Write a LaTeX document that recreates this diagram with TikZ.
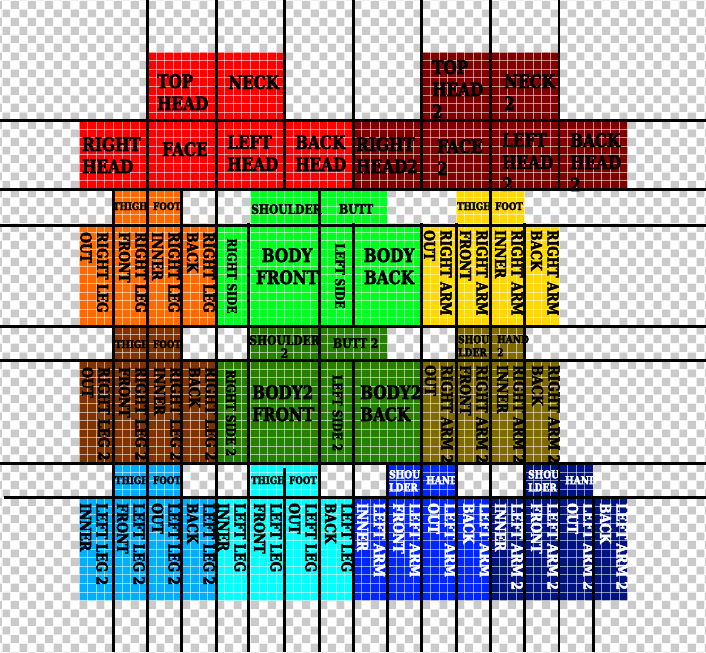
\documentclass[tikz,border=0pt]{standalone}
\usepackage{fontspec}
\setmainfont{DejaVu Serif}[FakeStretch=0.82, BoldFeatures={FakeBold=3}]
\definecolor{cRed}{HTML}{FF0000}
\definecolor{cDRed}{HTML}{7F0000}
\definecolor{cOrange}{HTML}{FF6A00}
\definecolor{cBrown}{HTML}{7F3300}
\definecolor{cGreen}{HTML}{00FF21}
\definecolor{cDGreen}{HTML}{267F00}
\definecolor{cYellow}{HTML}{FFD800}
\definecolor{cOlive}{HTML}{7F6A00}
\definecolor{cLBlue}{HTML}{00AEFF}
\definecolor{cCyan}{HTML}{00FFFF}
\definecolor{cBlue}{HTML}{0026FF}
\definecolor{cNavy}{HTML}{00137F}
\definecolor{cChk}{HTML}{CACACA}
\begin{document}
\begin{tikzpicture}[x=0.3cm,y=-0.3cm,
  blk/.style={line width=2.8pt, black},
  pxgrid/.style={white, opacity=0.55, line width=0.7pt},
  headlab/.style={inner sep=0pt, align=left, anchor=north west, font=\bfseries\fontsize{18.5}{22}\selectfont},
  smlab/.style={inner sep=0pt, align=left, anchor=north west, font=\bfseries\fontsize{10.5}{12}\selectfont},
  mdlab/.style={inner sep=0pt, align=left, anchor=north west, font=\bfseries\fontsize{13}{13}\selectfont},
  shlab/.style={inner sep=0pt, align=left, anchor=north west, font=\bfseries\fontsize{11}{13}\selectfont},
  vlab/.style={inner sep=0pt, align=left, rotate=-90, anchor=north west, font=\bfseries\fontsize{15}{16.5}\selectfont},
  sdlab/.style={inner sep=0pt, rotate=-90, anchor=center, font=\bfseries\fontsize{13}{13}\selectfont},
  wht/.style={text=white}]
\useasboundingbox (-9.218,-6.068) rectangle (73.16,70.01);
\begin{scope}
\clip (-9.218,-6.068) rectangle (73.16,70.01);
\fill[white] (-9.218,-6.068) rectangle (73.16,70.01);
\foreach \i in {-10,-8,...,72}{\foreach \j in {-8,-6,...,70}{
  \fill[cChk] (\i,\j) rectangle ++(1,1) (\i+1,\j+1) rectangle ++(1,1);}}
% colour regions
\fill[cRed] (8,0) rectangle (24,8) (0,8) rectangle (32,16);
\fill[cDRed] (40,0) rectangle (56,8) (32,8) rectangle (64,16);
\fill[cOrange] (4,16) rectangle (12,20) (0,20) rectangle (16,32);
\fill[cGreen] (20,16) rectangle (36,20) (16,20) rectangle (40,32);
\fill[cYellow] (44,16) rectangle (52,20) (40,20) rectangle (56,32);
\fill[cBrown] (4,32) rectangle (12,36) (0,36) rectangle (16,48);
\fill[cDGreen] (20,32) rectangle (36,36) (16,36) rectangle (40,48);
\fill[cOlive] (44,32) rectangle (52,36) (40,36) rectangle (56,48);
\fill[cLBlue] (4,48) rectangle (12,52) (0,52) rectangle (16,64);
\fill[cCyan] (20,48) rectangle (28,52) (16,52) rectangle (32,64);
\fill[cBlue] (36,48) rectangle (44,52) (32,52) rectangle (48,64);
\fill[cNavy] (52,48) rectangle (60,52) (48,52) rectangle (64,64);
% pixel grid
\foreach \i in {-10,...,74} \draw[pxgrid] (\i,-7) -- (\i,71);
\foreach \j in {-7,...,71} \draw[pxgrid] (-10,\j) -- (74,\j);
\end{scope}
% labels in pixel coordinates
\begin{scope}[shift={(-9.218,-6.068)}, x=0.035006cm, y=-0.035006cm]
\node[headlab] (tophead) at (157,74) {TOP\\HEAD};
\node[headlab] (neck) at (228,75) {NECK};
\node[headlab] (righthead) at (82,137) {RIGHT\\HEAD};
\node[headlab] (face) at (162,142) {FACE};
\node[headlab] (lefthead) at (227,135) {LEFT\\HEAD};
\node[headlab] (backhead) at (295,135) {BACK\\HEAD};
\node[headlab] (tophead2) at (432,60) {TOP\\HEAD\\2};
\node[headlab] (neck2) at (504,74) {NECK\\2};
\node[headlab] (righthead2) at (356,137) {RIGHT\\HEAD2};
\node[headlab] (face2) at (437,139) {FACE\\2};
\node[headlab] (lefthead2) at (502,133) {LEFT\\HEAD\\2};
\node[headlab] (backhead2) at (570,133) {BACK\\HEAD\\2};
% band C
\node[smlab] (thighA) at (113,202) {THIGH};
\node[smlab] (footA) at (153,202) {FOOT};
\node[mdlab] (shoulderA) at (251,204) {SHOULDER};
\node[mdlab] (buttA) at (339,204) {BUTT};
\node[smlab] (thighB) at (457,202) {THIGH};
\node[smlab] (footB) at (495,202) {FOOT};
% band E
\node[smlab] (thighC) at (115,340) {THIGH};
\node[smlab] (footC) at (153,340) {FOOT};
\node[mdlab, align=center, anchor=north] (shoulderC) at (284.5,335) {SHOULDER\\2};
\node[mdlab] (buttC) at (333,338) {BUTT 2};
\node[shlab] (shoulderD) at (458,335) {SHOU\\LDER};
\node[shlab] (handD) at (497,335) {HAND\\2};
% band G
\node[smlab] (thighE) at (115,476) {THIGH};
\node[smlab] (footE) at (153,476) {FOOT};
\node[smlab] (thighF) at (251,476) {THIGH};
\node[smlab] (footF) at (289,476) {FOOT};
\node[shlab, wht] (shoulderG) at (389,470) {SHOU\\LDER};
\node[shlab, wht] (handG) at (426,476) {HAND};
\node[shlab, wht] (shoulderH) at (528,470) {SHOU\\LDER};
\node[shlab, wht] (handH) at (565,476) {HAND};
% body
\node[headlab, align=center, anchor=north] (bodyfront) at (287,248) {BODY\\FRONT};
\node[headlab, align=center, anchor=north] (bodyback) at (389,248) {BODY\\BACK};
\node[headlab] (body2front) at (252,385) {BODY2\\FRONT};
\node[headlab] (body2back) at (360,385) {BODY2\\BACK};
\node[sdlab] (rside) at (232,276) {RIGHT SIDE};
\node[sdlab] (lside) at (340,276) {LEFT SIDE};
\node[sdlab] (rside2) at (231,413) {RIGHT SIDE 2};
\node[sdlab] (lside2) at (337.5,413) {LEFT SIDE 2};
% right leg / arm
\node[vlab] (rlo) at (108.5,232) {RIGHT LEG\\OUT};
\node[vlab] (rlf) at (147,232) {RIGHT LEG\\FRONT};
\node[vlab] (rli) at (180,232) {RIGHT LEG\\INNER};
\node[vlab] (rlb) at (215,232) {RIGHT LEG\\BACK};
\node[vlab] (rao) at (452,230) {RIGHT ARM\\OUT};
\node[vlab] (raf) at (488,230) {RIGHT ARM\\FRONT};
\node[vlab] (rai) at (523,230) {RIGHT ARM\\INNER};
\node[vlab] (rab) at (559,230) {RIGHT ARM\\BACK};
\node[vlab] (rlo2) at (110,367) {RIGHT LEG 2\\OUT};
\node[vlab] (rlf2) at (147,367) {RIGHT LEG 2\\FRONT};
\node[vlab] (rli2) at (182,367) {RIGHT LEG 2\\INNER};
\node[vlab] (rlb2) at (217,367) {RIGHT LEG 2\\BACK};
\node[vlab] (rao2) at (453,365) {RIGHT ARM 2\\OUT};
\node[vlab] (raf2) at (488,365) {RIGHT ARM 2\\FRONT};
\node[vlab] (rai2) at (525,365) {RIGHT ARM 2\\INNER};
\node[vlab] (rab2) at (560,365) {RIGHT ARM 2\\BACK};
% left leg / arm
\node[vlab] (ll2i) at (108,503) {LEFT LEG 2\\INNER};
\node[vlab] (ll2f) at (145,503) {LEFT LEG 2\\FRONT};
\node[vlab] (ll2o) at (180,503) {LEFT LEG 2\\OUT};
\node[vlab] (ll2b) at (215,503) {LEFT LEG 2\\BACK};
\node[vlab] (lli) at (246,503) {LEFT LEG\\INNER};
\node[vlab] (llf) at (282,503) {LEFT LEG\\FRONT};
\node[vlab] (llo) at (317,503) {LEFT LEG\\OUT};
\node[vlab] (llb) at (353,503) {LEFT LEG\\BACK};
\node[vlab, wht] (lai) at (385,503) {LEFT ARM\\INNER};
\node[vlab, wht] (laf) at (421,503) {LEFT ARM\\FRONT};
\node[vlab, wht] (lao) at (456,503) {LEFT ARM\\OUT};
\node[vlab, wht] (lab) at (491,503) {LEFT ARM\\BACK};
\node[vlab, wht] (la2i) at (523,503) {LEFT ARM 2\\INNER};
\node[vlab, wht] (la2f) at (559,503) {LEFT ARM 2\\FRONT};
\node[vlab, wht] (la2o) at (595,503) {LEFT ARM 2\\OUT};
\node[vlab, wht] (la2b) at (628,503) {LEFT ARM 2\\BACK};
\end{scope}
% black lines
\foreach \y in {8,16,20.25,32,36,48} \draw[blk] (-9.218,\y) -- (73.16,\y);
\draw[blk] (-8.75,52) -- (73.16,52);
\foreach \x in {8,16,48} \draw[blk] (\x,-6.068) -- (\x,70.01);
\foreach \x in {4,12,28.1} \draw[blk] (\x,16) -- (\x,70.01);
\foreach \x in {19.8,44,52} \draw[blk] (\x,20) -- (\x,70.01);
\draw[blk] (24,-6.068) -- (24,16) (24,48.5) -- (24,70.01);
\draw[blk] (32,-6.068) -- (32,16) (32,20) -- (32,32) (32,36) -- (32,70.01);
\draw[blk] (36,48) -- (36,70.01);
\draw[blk] (40,-6.068) -- (40,16) (40,20) -- (40,70.01);
\draw[blk] (56,-6.068) -- (56,16) (56,48) -- (56,70.01);
\draw[blk] (60,52) -- (60,70.01);
\end{tikzpicture}
\end{document}
